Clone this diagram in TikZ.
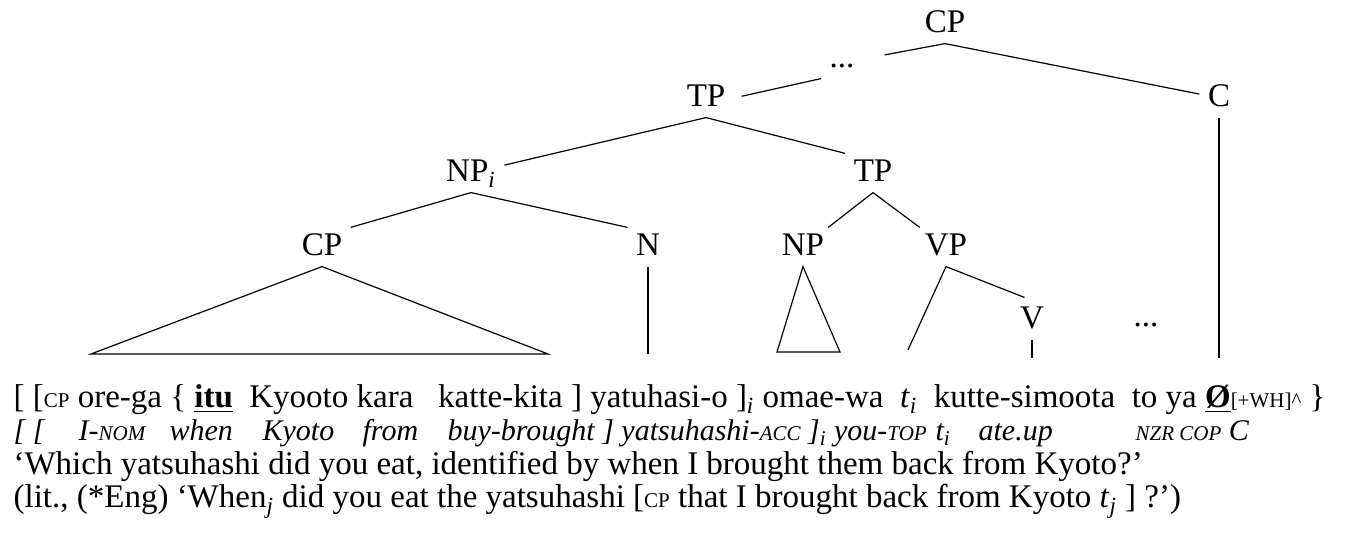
\documentclass[tikz,border=0pt]{standalone}
\usepackage{fontspec}
\setmainfont{Liberation Serif}
\newcommand{\smc}[1]{{\fontsize{10.5}{12}\selectfont #1}}
\newcommand{\isub}[1]{\textsubscript{\itshape #1}}
\newcommand{\trace}[1]{\textit{t}\isub{#1}}

\begin{document}
\begin{tikzpicture}[x=0.5pt,y=-0.5pt,line width=0.6pt,
  cat/.style={font=\fontsize{16.5}{18}\selectfont,inner xsep=4pt,inner ysep=0pt,
    text height=14pt,text depth=5pt,anchor=base},
  row/.style={font=\fontsize{16.5}{18}\selectfont,inner sep=0pt,anchor=base west},
  gloss/.style={row,font=\fontsize{15}{18}\selectfont\itshape}]
\useasboundingbox (0,0) rectangle (1367,550);

\node[cat] (cp0) at (945,33) {CP};
\node[cat] (dots0) at (842,68) {...};
\node[cat] (tp0) at (706,107) {TP};
\node[cat] (c0) at (1219,107) {C};
\node[cat] (np0) at (471,182) {NP\isub{i}};
\node[cat] (tp1) at (873,182) {TP};
\node[cat] (cp1) at (322,256) {CP};
\node[cat] (n1) at (648,256) {N};
\node[cat] (np1) at (803,256) {NP};
\node[cat] (vp1) at (946,256) {VP};
\node[cat] (v1) at (1032,329) {V};
\node[cat] (dots1) at (1146,327) {...};

\coordinate (cpl) at (91,354);
\coordinate (cpr) at (548,354);
\coordinate (nend) at (648,354);
\coordinate (npl) at (777,352);
\coordinate (npr) at (840,352);
\coordinate (vpl) at (908,350);
\coordinate (vend) at (1032,358);
\coordinate (cend) at (1219,358);

\draw[shorten >=11pt] (cp0.south) -- (dots0.east);
\draw[shorten >=4pt] (dots0.south west) -- (tp0.east);
\draw (cp0.south) -- (c0);
\draw (tp0.south) -- (np0);
\draw (tp0.south) -- (tp1.north west);
\draw (np0.south) -- (cp1.north east);
\draw (np0.south) -- (n1.north west);
\draw (tp1.south) -- (np1);
\draw (tp1.south) -- (vp1);
\draw[shorten >=4pt] (vp1.south) -- (v1.north);
\draw (vp1.south) -- (vpl);
\draw (v1.south) -- (vend);
\draw (c0.south) -- (cend);
\draw (n1.south) -- (nend);
\draw (cp1.south) -- (cpl) -- (cpr) -- cycle;
\draw (np1.south) -- (npl) -- (npr) -- cycle;

% example sentence
\node[row] (ex1) at (13,408) {[ [\smc{CP} ore-ga \{ \underline{\textbf{itu}}\ \ Kyooto kara\ \ \ katte-kita ] yatuhasi-o ]\isub{i} omae-wa\ \ \trace{i}\ \ kutte-simoota\ \ to ya \underline{\textbf{Ø}}\smc{[+WH]\^{}} \}};
% gloss, word under word
\node[gloss] (gl0) at (13,441) {[ [};
\node[gloss] (gl1) at (78,441) {I-\smc{NOM}};
\node[gloss] (gl2) at (169,441) {when};
\node[gloss] (gl3) at (262,441) {Kyoto};
\node[gloss] (gl4) at (362,441) {from};
\node[gloss] (gl5) at (447,441) {buy-brought ] yatsuhashi-\smc{ACC} ]\isub{i} you-\smc{TOP}};
\node[gloss] (gl6) at (935,441) {\trace{i}};
\node[gloss] (gl7) at (978,441) {ate.up};
\node[gloss] (gl8) at (1135,441) {\smc{NZR COP} C};
% translations
\node[row] (ex3) at (13,475) {`Which yatsuhashi did you eat, identified by when I brought them back from Kyoto?'};
\node[row] (ex4) at (13,508) {(lit., (*Eng) `When\isub{j} did you eat the yatsuhashi [\smc{CP} that I brought back from Kyoto \trace{j} ] ?')};
\end{tikzpicture}
\end{document}
